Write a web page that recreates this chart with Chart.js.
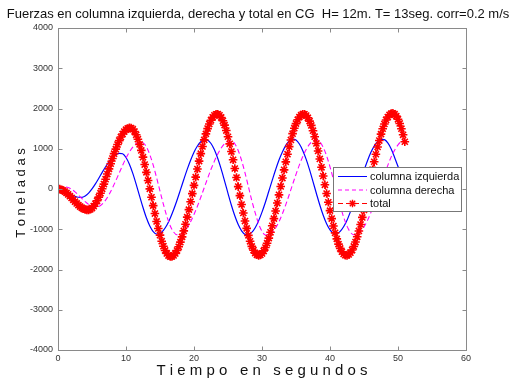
<!DOCTYPE html>
<html>
<head>
<meta charset="utf-8">
<script src="https://cdn.jsdelivr.net/npm/chart.js@4.4.0/dist/chart.umd.min.js"></script>
<style>
  html, body { margin: 0; padding: 0; background: #fff; }
  canvas { display: block; }
</style>
</head>
<body>
<canvas id="fuerzas" width="516" height="384"></canvas>
<script>
// ======== Datos (toneladas vs segundos) ========
// columnas muestreadas cada 0.5 s
const tiempoCol = [
  0, 0.5, 1, 1.5, 2, 2.5, 3, 3.5, 4, 4.5,
  5, 5.5, 6, 6.5, 7, 7.5, 8, 8.5, 9, 9.5,
  10, 10.5, 11, 11.5, 12, 12.5, 13, 13.5, 14, 14.5,
  15, 15.5, 16, 16.5, 17, 17.5, 18, 18.5, 19, 19.5,
  20, 20.5, 21, 21.5, 22, 22.5, 23, 23.5, 24, 24.5,
  25, 25.5, 26, 26.5, 27, 27.5, 28, 28.5, 29, 29.5,
  30, 30.5, 31, 31.5, 32, 32.5, 33, 33.5, 34, 34.5,
  35, 35.5, 36, 36.5, 37, 37.5, 38, 38.5, 39, 39.5,
  40, 40.5, 41, 41.5, 42, 42.5, 43, 43.5, 44, 44.5,
  45, 45.5, 46, 46.5, 47, 47.5, 48, 48.5, 49, 49.5,
  50, 50.5, 51
]

const columnaIzquierda = [
  0, -12, -44, -90, -139, -181, -205, -207, -173, -102,
  1, 127, 267, 413, 553, 679, 782, 853, 887, 875,
  783, 615, 388, 116, -175, -459, -716, -921, -1058, -1118,
  -1102, -1026, -901, -725, -516, -279, -23, 236, 487, 715,
  915, 1068, 1174, 1225, 1216, 1130, 974, 756, 493, 197,
  -107, -403, -666, -884, -1040, -1126, -1135, -1078, -961, -792,
  -574, -328, -57, 214, 478, 721, 921, 1085, 1192, 1239,
  1216, 1118, 953, 737, 474, 183, -111, -398, -654, -866,
  -1016, -1096, -1105, -1051, -938, -776, -565, -330, -69, 199,
  460, 695, 904, 1066, 1181, 1235, 1226, 1144, 993, 784,
  560, 330, 80
]

const columnaDerecha = [
  40, 48, 50, 36, -5, -70, -149, -234, -315, -383,
  -430, -450, -435, -375, -278, -139, 25, 206, 397, 588,
  765, 919, 1040, 1125, 1167, 1152, 1048, 854, 592, 281,
  -54, -380, -676, -911, -1068, -1138, -1126, -1063, -957, -812,
  -632, -429, -204, 30, 264, 489, 692, 872, 1017, 1123,
  1186, 1198, 1125, 956, 709, 401, 58, -288, -591, -866,
  -1051, -1141, -1140, -1080, -968, -811, -614, -387, -143, 113,
  362, 599, 808, 983, 1113, 1194, 1220, 1173, 1036, 824,
  552, 238, -92, -411, -696, -923, -1074, -1138, -1123, -1055,
  -944, -786, -590, -371, -132, 113, 354, 588, 798, 965,
  1097, 1182, 1219
]

// total muestreado cada 0.25 s
const tiempoTotal = [
  0, 0.25, 0.5, 0.75, 1, 1.25, 1.5, 1.75, 2, 2.25, 2.5, 2.75, 3, 3.25, 3.5, 3.75, 4, 4.25, 4.5, 4.75,
  5, 5.25, 5.5, 5.75, 6, 6.25, 6.5, 6.75, 7, 7.25, 7.5, 7.75, 8, 8.25, 8.5, 8.75, 9, 9.25, 9.5, 9.75,
  10, 10.25, 10.5, 10.75, 11, 11.25, 11.5, 11.75, 12, 12.25, 12.5, 12.75, 13, 13.25, 13.5, 13.75, 14, 14.25, 14.5, 14.75,
  15, 15.25, 15.5, 15.75, 16, 16.25, 16.5, 16.75, 17, 17.25, 17.5, 17.75, 18, 18.25, 18.5, 18.75, 19, 19.25, 19.5, 19.75,
  20, 20.25, 20.5, 20.75, 21, 21.25, 21.5, 21.75, 22, 22.25, 22.5, 22.75, 23, 23.25, 23.5, 23.75, 24, 24.25, 24.5, 24.75,
  25, 25.25, 25.5, 25.75, 26, 26.25, 26.5, 26.75, 27, 27.25, 27.5, 27.75, 28, 28.25, 28.5, 28.75, 29, 29.25, 29.5, 29.75,
  30, 30.25, 30.5, 30.75, 31, 31.25, 31.5, 31.75, 32, 32.25, 32.5, 32.75, 33, 33.25, 33.5, 33.75, 34, 34.25, 34.5, 34.75,
  35, 35.25, 35.5, 35.75, 36, 36.25, 36.5, 36.75, 37, 37.25, 37.5, 37.75, 38, 38.25, 38.5, 38.75, 39, 39.25, 39.5, 39.75,
  40, 40.25, 40.5, 40.75, 41, 41.25, 41.5, 41.75, 42, 42.25, 42.5, 42.75, 43, 43.25, 43.5, 43.75, 44, 44.25, 44.5, 44.75,
  45, 45.25, 45.5, 45.75, 46, 46.25, 46.5, 46.75, 47, 47.25, 47.5, 47.75, 48, 48.25, 48.5, 48.75, 49, 49.25, 49.5, 49.75,
  50, 50.25, 50.5, 50.75, 51
]

const total = [
  0, -4, -17, -37, -64, -97, -135, -178, -223, -269, -315, -359, -400, -437, -468, -492, -509, -518, -519, -504,
  -473, -427, -366, -291, -203, -104, 5, 122, 244, 371, 500, 629, 756, 878, 990, 1104, 1203, 1291, 1366, 1427,
  1473, 1504, 1519, 1515, 1485, 1429, 1346, 1237, 1109, 959, 791, 608, 414, 212, 4, -205, -413, -610, -806, -981,
  -1147, -1297, -1421, -1527, -1602, -1653, -1678, -1676, -1650, -1601, -1529, -1436, -1321, -1190, -1041, -876, -699, -512, -316, -115,
  90, 295, 496, 692, 879, 1056, 1221, 1370, 1501, 1616, 1709, 1781, 1830, 1856, 1858, 1832, 1777, 1694, 1587, 1452,
  1298, 1122, 930, 725, 509, 285, 60, -165, -385, -596, -796, -978, -1151, -1299, -1426, -1520, -1592, -1635, -1650, -1638,
  -1601, -1538, -1454, -1346, -1220, -1076, -913, -736, -547, -349, -145, 63, 272, 476, 675, 865, 1052, 1219, 1375, 1511,
  1625, 1720, 1789, 1836, 1858, 1855, 1825, 1769, 1686, 1580, 1449, 1299, 1131, 945, 747, 539, 323, 105, -113, -329,
  -537, -735, -921, -1089, -1239, -1370, -1476, -1559, -1615, -1645, -1648, -1627, -1583, -1516, -1428, -1318, -1188, -1043, -882, -706,
  -522, -329, -129, 74, 278, 480, 677, 863, 1044, 1204, 1363, 1497, 1615, 1715, 1789, 1842, 1873, 1879, 1859, 1810,
  1732, 1628, 1498, 1347, 1174
]

// ejes
const ejeX = { min: 0, max: 60, paso: 10 }
const ejeY = { min: -4000, max: 4000, paso: 1000 }

const titulo = 'Fuerzas en columna izquierda, derecha y total en CG  H= 12m. T= 13seg. corr=0.2 m/s'
const tituloX = 'T i e m p o   e n   s e g u n d o s'
const tituloY = 'T o n e l a d a s'
const nombres = ['columna izquierda', 'columna derecha', 'total']

const FONT = '"Liberation Sans", Arial, sans-serif'
const AZUL = '#0000ff'
const MAGENTA = '#ff00ff'
const ROJO = '#ff0000'
const GRIS = '#8a8a8a'

const puntos = (ts, vs) => ts.map((t, i) => ({ x: t, y: vs[i] }))

// asterisk marker for the legend sample (same shape as pointStyle 'star')
function asterisco(ctx, x, y, r) {
  const d = r * Math.SQRT1_2
  ctx.beginPath()
  ctx.moveTo(x - r, y); ctx.lineTo(x + r, y)
  ctx.moveTo(x, y - r); ctx.lineTo(x, y + r)
  ctx.moveTo(x - d, y - d); ctx.lineTo(x + d, y + d)
  ctx.moveTo(x - d, y + d); ctx.lineTo(x + d, y - d)
  ctx.stroke()
}

// draws the axes box, inward ticks, titles and the legend box
const marco = {
  id: 'marco',
  afterDraw(chart) {
    const { ctx, chartArea: a, scales } = chart
    const L = Math.round(a.left) + 0.5, R = Math.round(a.right) + 0.5
    const T = Math.round(a.top) + 0.5, B = Math.round(a.bottom) + 0.5

    ctx.save()
    ctx.strokeStyle = GRIS
    ctx.lineWidth = 1
    ctx.strokeRect(L, T, R - L, B - T)

    ctx.beginPath()
    scales.y.ticks.forEach(t => {
      const y = Math.round(scales.y.getPixelForValue(t.value)) + 0.5
      ctx.moveTo(L, y); ctx.lineTo(L + 4, y)
      ctx.moveTo(R, y); ctx.lineTo(R - 4, y)
    })
    scales.x.ticks.forEach(t => {
      const x = Math.round(scales.x.getPixelForValue(t.value)) + 0.5
      ctx.moveTo(x, B); ctx.lineTo(x, B - 4)
      ctx.moveTo(x, T); ctx.lineTo(x, T + 4)
    })
    ctx.stroke()

    // titles
    ctx.fillStyle = '#111'
    ctx.textAlign = 'center'
    ctx.textBaseline = 'middle'
    ctx.font = '13px ' + FONT
    ctx.fillText(titulo, 258, 14)
    ctx.font = '15px ' + FONT
    ctx.fillText(tituloX, (a.left + a.right) / 2, 371)
    ctx.save()
    ctx.font = '13px ' + FONT
    ctx.translate(21, 193)
    ctx.rotate(-Math.PI / 2)
    ctx.fillText(tituloY, 0, 0)
    ctx.restore()

    // legend
    const lx = 333.5, ly = 167.5, lw = 128, lh = 44
    ctx.fillStyle = '#fff'
    ctx.fillRect(lx, ly, lw, lh)
    ctx.strokeStyle = '#777'
    ctx.strokeRect(lx, ly, lw, lh)

    const estilos = [
      { color: AZUL, dash: [] },
      { color: MAGENTA, dash: [4, 3] },
      { color: ROJO, dash: [5, 3], marca: true }
    ]
    ctx.font = '11px ' + FONT
    ctx.textAlign = 'left'
    estilos.forEach((e, i) => {
      const y = 176.5 + i * 13.5
      ctx.strokeStyle = e.color
      ctx.lineWidth = 1
      ctx.setLineDash(e.dash)
      ctx.beginPath()
      ctx.moveTo(338, y); ctx.lineTo(367, y)
      ctx.stroke()
      ctx.setLineDash([])
      if (e.marca) {
        ctx.lineWidth = 1.4
        asterisco(ctx, 352.5, y, 3.8)
      }
      ctx.fillStyle = '#111'
      ctx.fillText(nombres[i], 370, y + 0.5)
    })
    ctx.restore()
  }
}

new Chart(document.getElementById('fuerzas'), {
  type: 'line',
  data: {
    datasets: [
      {
        label: nombres[0],
        data: puntos(tiempoCol, columnaIzquierda),
        borderColor: AZUL,
        borderWidth: 1.2,
        pointRadius: 0,
        cubicInterpolationMode: 'monotone',
        order: 3
      },
      {
        label: nombres[1],
        data: puntos(tiempoCol, columnaDerecha),
        borderColor: MAGENTA,
        borderWidth: 1.1,
        borderDash: [5, 3],
        pointRadius: 0,
        cubicInterpolationMode: 'monotone',
        order: 2
      },
      {
        label: nombres[2],
        data: puntos(tiempoTotal, total),
        borderColor: ROJO,
        borderWidth: 1,
        borderDash: [5, 3],
        pointStyle: 'star',
        pointRadius: 4.3,
        pointBorderWidth: 1.6,
        pointBorderColor: ROJO,
        pointBackgroundColor: ROJO,
        order: 1
      }
    ]
  },
  options: {
    responsive: false,
    devicePixelRatio: 1,
    animation: false,
    events: [],
    layout: { padding: { top: 28, right: 50, left: 0, bottom: 0 } },
    plugins: {
      legend: { display: false },
      title: { display: false },
      tooltip: { enabled: false }
    },
    scales: {
      x: {
        type: 'linear',
        min: ejeX.min,
        max: ejeX.max,
        afterFit: s => { s.height = 34 },
        grid: { display: false, drawTicks: false },
        border: { display: false },
        ticks: {
          stepSize: ejeX.paso, padding: 3, color: '#333',
          font: { family: FONT, size: 9 },
          callback: v => String(v)
        }
      },
      y: {
        min: ejeY.min,
        max: ejeY.max,
        afterFit: s => { s.width = 58 },
        grid: { display: false, drawTicks: false },
        border: { display: false },
        ticks: {
          stepSize: ejeY.paso, padding: 5, color: '#333',
          font: { family: FONT, size: 9 },
          callback: v => String(v)
        }
      }
    }
  },
  plugins: [marco]
})
</script>
</body>
</html>
